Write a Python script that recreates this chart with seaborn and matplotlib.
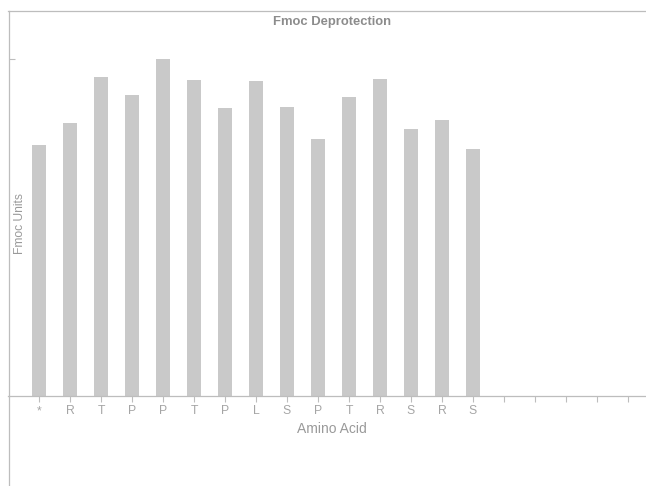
import matplotlib
matplotlib.use("Agg")
import matplotlib.pyplot as plt
import seaborn as sns
import pandas as pd
from matplotlib.lines import Line2D

# Data (relative Fmoc units; the single y tick marks 1.0)
residues = ["*", "R", "T", "P", "P", "T", "P", "L", "S", "P", "T", "R", "S", "R", "S"]
fmoc_units = [0.744, 0.809, 0.946, 0.892, 0.999, 0.938, 0.854, 0.935, 0.858,
              0.764, 0.886, 0.940, 0.791, 0.818, 0.732]
n_slots = 20  # axis has 20 category slots, last 5 empty
tick_labels = residues + [""] * (n_slots - len(residues))

sns.set_theme(style="white")
plt.rcParams['font.family'] = ['Liberation Sans', 'DejaVu Sans']

df = pd.DataFrame({"slot": [str(i) for i in range(len(residues))],
                   "value": fmoc_units})
order = [str(i) for i in range(n_slots)]

W, H = 646, 486
fig = plt.figure(figsize=(W / 100, H / 100), dpi=100)
left_px, right_px, top_px, base_px = 8.5, 660, 11, 396
ax = fig.add_axes([left_px / W, 1 - base_px / H,
                   (right_px - left_px) / W, (base_px - top_px) / H])

sns.barplot(data=df, x="slot", y="value", order=order, color="#c9c9c9",
            saturation=1, width=0.48, ax=ax, edgecolor="none")

line_c = "#bdbdbd"
txt_c = "#9a9a9a"
ax.set_xlim((left_px - 39) / 31, (right_px - 39) / 31)
ax.set_ylim(0, (base_px - top_px) / (base_px - 59))
ax.set_yticks([1.0])
ax.set_yticklabels([])
ax.set_xticks(range(n_slots))
ax.set_xticklabels(tick_labels, fontsize=8.8, color="#a5a5a5")
ax.tick_params(axis="x", direction="out", length=4.3, width=0.8, color=line_c,
               pad=2.3, bottom=True)
ax.tick_params(axis="y", direction="in", length=4.3, width=0.8, color=line_c,
               left=True)
for s in ["left", "top", "bottom"]:
    ax.spines[s].set_visible(True)
    ax.spines[s].set_color(line_c)
    ax.spines[s].set_linewidth(0.9)
ax.spines["right"].set_visible(False)

span_x = right_px - left_px
span_y = base_px - top_px
ax.set_xlabel("Amino Acid", fontsize=10, color=txt_c, va="center")
ax.xaxis.set_label_coords((332 - left_px) / span_x, (base_px - 429) / span_y)
ax.set_ylabel("Fmoc Units", fontsize=8.7, color=txt_c, va="center")
ax.yaxis.set_label_coords((20 - left_px) / span_x, (base_px - 223) / span_y)
ax.set_title("Fmoc Deprotection", fontsize=9.4, fontweight="bold",
             color="#8c8c8c", x=(332 - left_px) / span_x,
             y=(base_px - 22) / span_y, va="center", pad=0)

# outer chart frame line continuing below the plot area
fig.add_artist(Line2D([left_px / W, left_px / W], [0, 1 - base_px / H],
                      color=line_c, linewidth=0.9, transform=fig.transFigure))

fig.savefig("out.png", dpi=100, facecolor="white")
